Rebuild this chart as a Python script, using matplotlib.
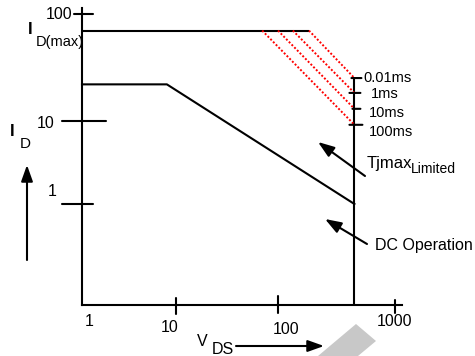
import numpy as np
import matplotlib
matplotlib.use('Agg')
import matplotlib.pyplot as plt
from matplotlib.patches import Polygon

plt.rcParams['font.family'] = ['Liberation Sans', 'DejaVu Sans']

# ---------------- data ----------------
id_max = 70.0
idmax_end_voltage = 184.0
vds_max = 450.0
dc_flat_current = 22.0
dc_knee_voltage = 8.0
dc_end_current = 1.0
pulse_labels = ['0.01ms', '1ms', '10ms', '100ms']
pulse_start_voltage = [184.0, 134.0, 100.0, 70.0]
pulse_end_current = [25.2, 18.3, 13.0, 9.0]
x_tick_values = [1, 10, 100, 1000]
x_tick_labels = ['1', '10', '100', '1000']
y_tick_values = [1, 10, 100]
y_tick_labels = ['1', '10', '100']

# ---------------- figure / schematic log scales ----------------
W, H = 475, 356
fig = plt.figure(figsize=(W / 100, H / 100), dpi=100)
L, R, T, B = 82, 402, 8, 305
ax = fig.add_axes([L / W, (H - B) / H, (R - L) / W, (B - T) / H])

X_LOG = np.array([-1, 0, 1, 2, 3, 4], float)
X_PIX = np.array([-12, 82, 176, 278, 395, 512], float)
Y_LOG = np.array([-2, -1, 0, 1, 2, 3], float)
Y_PIX = -np.array([406, 305, 204, 121, 14, -93], float)


def _log(v):
    v = np.asarray(v, float)
    with np.errstate(divide='ignore', invalid='ignore'):
        return np.log10(np.clip(v, 1e-30, None))


def fx(v):
    return np.interp(_log(v), X_LOG, X_PIX)


def ifx(p):
    return 10 ** np.interp(np.asarray(p, float), X_PIX, X_LOG)


def fy(v):
    return np.interp(_log(v), Y_LOG, Y_PIX)


def ify(p):
    return 10 ** np.interp(np.asarray(p, float), Y_PIX, Y_LOG)


ax.set_xscale('function', functions=(fx, ifx))
ax.set_yscale('function', functions=(fy, ify))
ax.set_xlim(float(ifx(L)), float(ifx(R)))
ax.set_ylim(float(ify(-B)), float(ify(-T)))
ax.xaxis.set_major_locator(matplotlib.ticker.NullLocator())
ax.xaxis.set_minor_locator(matplotlib.ticker.NullLocator())
ax.yaxis.set_major_locator(matplotlib.ticker.NullLocator())
ax.yaxis.set_minor_locator(matplotlib.ticker.NullLocator())
ax.patch.set_alpha(0)

LW = 1.5
for s in ['top', 'right']:
    ax.spines[s].set_visible(False)
for s in ['left', 'bottom']:
    ax.spines[s].set_linewidth(LW)
    ax.spines[s].set_color('black')

ybot = ax.get_ylim()[0]

# ---------------- curves ----------------
ax.plot([1, idmax_end_voltage], [id_max, id_max], color='black', lw=LW, clip_on=False,
        solid_capstyle='butt')
ax.plot([1, dc_knee_voltage, vds_max], [dc_flat_current, dc_flat_current, dc_end_current],
        color='black', lw=LW, clip_on=False)
ax.plot([vds_max, vds_max], [ybot, pulse_end_current[0]], color='black', lw=LW,
        clip_on=False, solid_capstyle='butt')
for sv, ec in zip(pulse_start_voltage, pulse_end_current):
    ax.plot([sv, vds_max], [id_max, ec], color='red', lw=1.4, ls=(0, (1, 1)),
            clip_on=False)


# ---------------- tick marks ----------------
def tick_seg(xy, coords, d1, d2):
    for d in (d1, d2):
        ax.annotate('', xy=xy, xycoords=coords, xytext=d, textcoords='offset pixels',
                    arrowprops=dict(arrowstyle='-', lw=LW, color='black',
                                    shrinkA=0, shrinkB=0),
                    annotation_clip=False)


ytr = ax.get_yaxis_transform()
xtr = ax.get_xaxis_transform()
y_tick_ext = {1: ((-20, 0), (11, 0)), 10: ((-20, 0), (24, 0)), 100: ((-8, 0), (11, 0))}
for v in y_tick_values:
    tick_seg((0, v), ytr, *y_tick_ext[v])
x_tick_ext = {10: ((0, 7), (0, -9)), 100: ((0, 9), (0, -8)), 1000: ((0, 5), (0, -8))}
for v in x_tick_values:
    if v in x_tick_ext:
        tick_seg((v, 0), xtr, *x_tick_ext[v])
r_tick_ext = [((-3, 0), (7, 0)), ((-5, 0), (6, 0)), ((-2, 0), (6, 0)), ((-5, 0), (8, 0))]
for c, ext in zip(pulse_end_current, r_tick_ext):
    tick_seg((vds_max, c), 'data', *ext)

# ---------------- tick labels ----------------
FS = 11.5
y_lab_off = {1: (-25, 13), 10: (-27, -2), 100: (-10, 0)}
for v, t in zip(y_tick_values, y_tick_labels):
    ax.annotate(t, xy=(0, v), xycoords=ytr, xytext=y_lab_off[v], textcoords='offset pixels',
                ha='right', va='center', fontsize=FS, annotation_clip=False)
x_lab_off = {1: (7, -16), 10: (-6, -22), 100: (8, -25), 1000: (0, -16)}
for v, t in zip(x_tick_values, x_tick_labels):
    ax.annotate(t, xy=(v, 0), xycoords=xtr, xytext=x_lab_off[v], textcoords='offset pixels',
                ha='center', va='center', fontsize=FS, annotation_clip=False)
p_lab_off = [(9, 0), (16, -1), (14, -4), (14, -7)]
for c, t, off in zip(pulse_end_current, pulse_labels, p_lab_off):
    ax.annotate(t, xy=(vds_max, c), xycoords='data', xytext=off, textcoords='offset pixels',
                ha='left', va='center', fontsize=10.5, annotation_clip=False)


# ---------------- other text ----------------
def ftxt(x, y, s, **kw):
    fig.text(x / W, 1 - y / H, s, **kw)


ftxt(30.5, 29, 'I', ha='center', va='center', fontsize=12, fontweight='bold')
ftxt(36, 42, 'D(max)', ha='left', va='center', fontsize=10.5)
ftxt(12.5, 132, 'I', ha='center', va='center', fontsize=12, fontweight='bold')
ftxt(25, 144.5, 'D', ha='center', va='center', fontsize=11)
ftxt(202, 341, 'V', ha='center', va='center', fontsize=11.5)
ftxt(212, 349, 'DS', ha='left', va='center', fontsize=11.5)
ftxt(367, 168, 'Tjmax', ha='left', va='baseline', fontsize=12)
ftxt(411, 173, 'Limited', ha='left', va='baseline', fontsize=10)
ftxt(375, 250, 'DC Operation', ha='left', va='baseline', fontsize=11.5)


# ---------------- arrows ----------------
def farrow(tail, tip):
    ax.annotate('', xy=(tip[0], H - tip[1]), xycoords='figure pixels',
                xytext=(tail[0], H - tail[1]), textcoords='figure pixels',
                arrowprops=dict(arrowstyle='-|>,head_length=0.7,head_width=0.25',
                                mutation_scale=14, lw=LW, color='black',
                                shrinkA=0, shrinkB=0),
                annotation_clip=False)


farrow((27, 260), (27, 165))
farrow((236, 346), (324, 346))
farrow((365, 176), (318, 142))
farrow((367, 244), (325, 219))

# ---------------- watermark shape ----------------
wm = [(318, 356), (356, 324), (376, 341), (358, 356)]
fig.patches.append(Polygon([(x / W, 1 - y / H) for x, y in wm], closed=True,
                           transform=fig.transFigure, facecolor='#c8c8c8',
                           edgecolor='none', zorder=0))

fig.savefig('out.png', dpi=100)
